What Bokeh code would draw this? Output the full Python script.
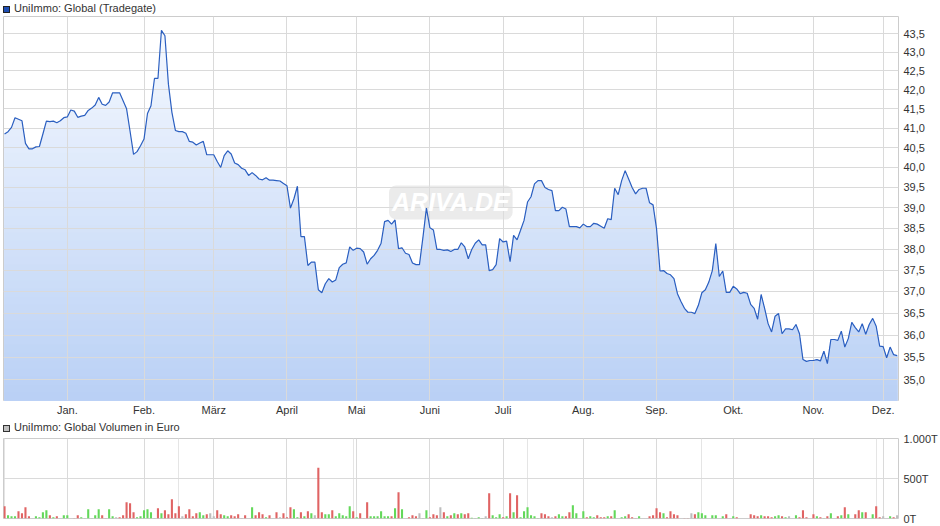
import numpy as np
from bokeh.plotting import figure
from bokeh.models import (Range1d, FixedTicker, CustomJSTickFormatter, Label,
                          Grid, Div)
from bokeh.layouts import column
from bokeh.embed import file_html
from bokeh.resources import INLINE

# ---------------- data ----------------
price = [
    40.85, 40.91, 41.02, 41.27, 41.23, 41.19, 40.61, 40.47, 40.47, 40.52,
    40.53, 40.85, 41.18, 41.17, 41.18, 41.14, 41.19, 41.27, 41.29, 41.47,
    41.44, 41.28, 41.31, 41.33, 41.46, 41.52, 41.60, 41.80, 41.62, 41.59,
    41.68, 41.92, 41.92, 41.92, 41.71, 41.50, 40.92, 40.33, 40.40, 40.55,
    40.72, 41.38, 41.58, 42.30, 42.30, 43.60, 43.45, 42.15, 41.41, 40.94,
    40.91, 40.91, 40.87, 40.66, 40.64, 40.57, 40.62, 40.66, 40.32, 40.32,
    40.32, 40.15, 40.00, 40.30, 40.42, 40.34, 40.11, 40.07, 39.98, 39.94,
    39.80, 39.87, 39.80, 39.71, 39.69, 39.74, 39.68, 39.68, 39.67, 39.66,
    39.60, 39.54, 38.99, 39.22, 39.53, 38.30, 38.30, 37.61, 37.69, 37.69,
    37.04, 36.97, 37.18, 37.30, 37.22, 37.27, 37.56, 37.64, 37.67, 38.05,
    37.97, 38.02, 38.01, 37.93, 37.64, 37.77, 37.85, 37.97, 38.14, 38.66,
    38.69, 38.60, 38.70, 38.01, 38.03, 37.90, 37.87, 37.67, 37.63, 37.63,
    38.28, 38.99, 38.51, 38.46, 37.99, 37.99, 37.97, 37.98, 37.94, 37.99,
    37.99, 38.15, 38.05, 37.77, 37.99, 38.14, 38.22, 38.10, 38.10, 37.49,
    37.51, 37.63, 38.25, 38.17, 38.19, 37.70, 38.33, 38.22, 38.45, 38.69,
    39.14, 39.27, 39.59, 39.67, 39.67, 39.50, 39.45, 39.42, 38.93, 38.93,
    39.01, 38.97, 38.54, 38.54, 38.54, 38.51, 38.60, 38.54, 38.54, 38.62,
    38.60, 38.55, 38.50, 38.73, 38.71, 39.48, 39.32, 39.67, 39.92, 39.71,
    39.50, 39.34, 39.45, 39.48, 39.48, 39.12, 39.07, 38.49, 37.48, 37.49,
    37.42, 37.39, 37.30, 36.95, 36.77, 36.61, 36.52, 36.52, 36.49, 36.68,
    36.97, 37.04, 37.22, 37.49, 38.13, 37.35, 37.48, 36.98, 36.98, 37.12,
    37.06, 36.95, 36.98, 36.96, 36.70, 36.61, 36.36, 36.93, 36.61, 36.26,
    36.07, 36.43, 36.49, 36.03, 36.14, 36.14, 36.12, 36.24, 36.03, 35.45,
    35.41, 35.43, 35.43, 35.45, 35.42, 35.64, 35.36, 35.90, 35.90, 35.88,
    36.09, 35.73, 35.92, 36.29, 36.17, 36.07, 36.26, 36.02, 36.24, 36.38,
    36.20, 35.75, 35.74, 35.49, 35.73, 35.56, 35.54,
]

# daily volume in thousand euro (T)
volume_t = [
    154, 42, 29, 29, 92, 67, 142, 29, 4, 29,
    17, 79, 104, 42, 17, 29, 4, 42, 42, 0,
    4, 42, 17, 4, 117, 4, 42, 117, 42, 4,
    117, 29, 17, 17, 42, 204, 192, 79, 17, 29,
    104, 117, 79, 4, 129, 67, 104, 54, 242, 67,
    154, 29, 54, 117, 29, 67, 79, 42, 54, 67,
    29, 104, 54, 42, 29, 42, 29, 54, 4, 42,
    0, 142, 42, 79, 54, 17, 42, 4, 79, 17,
    67, 17, 142, 117, 17, 79, 29, 92, 67, 42,
    633, 79, 54, 54, 104, 29, 67, 42, 29, 154,
    92, 17, 67, 4, 204, 29, 29, 29, 92, 29,
    29, 29, 129, 329, 117, 0, 17, 42, 29, 67,
    4, 104, 17, 54, 42, 142, 79, 29, 42, 67,
    54, 67, 54, 67, 8, 4, 17, 4, 29, 317,
    42, 17, 54, 17, 29, 317, 79, 292, 17, 92,
    142, 42, 29, 4, 67, 54, 29, 17, 29, 54,
    29, 29, 79, 167, 67, 0, 92, 17, 29, 17,
    42, 17, 17, 29, 29, 104, 0, 17, 29, 54,
    17, 4, 29, 0, 0, 29, 42, 129, 79, 67,
    17, 92, 54, 42, 0, 4, 4, 67, 54, 79,
    67, 42, 0, 42, 42, 0, 29, 54, 4, 29,
    17, 0, 0, 0, 54, 42, 29, 42, 29, 29,
    17, 29, 42, 29, 17, 29, 0, 42, 17, 104,
    17, 0, 54, 29, 17, 4, 29, 67, 0, 29,
    42, 142, 54, 0, 54, 104, 79, 79, 0, 54,
    154, 17, 29, 0, 29, 17, 42,
]

# day-on-day price change direction (+1 up, -1 down, 0 unchanged)
change_sign = [
    -1, 1, 1, 1, -1, -1, -1, -1, 0, 1,
    1, 1, 1, -1, 1, -1, 0, 1, 1, 0,
    -1, -1, 1, 1, 1, 1, 1, 1, -1, -1,
    1, 1, 0, -1, -1, -1, -1, -1, 1, 1,
    1, 1, 1, 1, -1, 1, -1, -1, -1, -1,
    -1, 0, -1, -1, -1, -1, 1, 1, -1, 0,
    0, -1, -1, 1, 1, -1, -1, -1, -1, -1,
    0, 1, -1, -1, -1, 1, -1, 0, -1, 0,
    -1, -1, -1, 1, 1, -1, 1, -1, 1, 0,
    -1, -1, 1, 1, -1, 1, 1, 1, 1, 1,
    -1, 1, -1, -1, -1, 1, 1, 1, 1, 1,
    1, -1, 1, -1, 1, 0, -1, -1, -1, 0,
    1, 1, -1, -1, -1, 0, -1, 1, -1, 1,
    -1, 1, -1, -1, 1, 1, 1, 1, 0, -1,
    1, 1, 1, -1, 1, -1, 1, -1, 1, 1,
    1, 1, 1, 1, -1, -1, -1, 0, -1, 1,
    1, -1, -1, 1, 1, 0, 1, -1, 1, 1,
    -1, -1, -1, 1, -1, 1, 0, 1, 1, -1,
    -1, -1, 1, 0, 0, -1, -1, -1, -1, 1,
    -1, -1, -1, -1, 0, -1, -1, 0, -1, 1,
    1, 1, 0, 1, 1, 0, 1, -1, 0, 1,
    -1, 0, 0, 0, -1, -1, -1, 1, -1, -1,
    -1, 1, 1, -1, 1, 0, 0, 1, -1, -1,
    -1, 0, -1, 1, -1, 1, -1, 1, 0, -1,
    1, -1, 1, 0, -1, -1, 1, -1, 0, 1,
    -1, -1, 0, 0, 1, -1, 0,
]

month_idx = [18, 40, 60, 81, 101, 122, 143, 166, 187, 209, 232, 252]
month_labels = ["Jan.", "Feb.", "März", "April", "Mai", "Juni", "Juli",
                "Aug.", "Sep.", "Okt.", "Nov.", "Dez."]
price_ticks = [35.0, 35.5, 36.0, 36.5, 37.0, 37.5, 38.0, 38.5, 39.0,
               39.5, 40.0, 40.5, 41.0, 41.5, 42.0, 42.5, 43.0, 43.5]
volume_ticks = [0, 500, 1000]

title_price = "UniImmo: Global (Tradegate)"
title_volume = "UniImmo: Global Volumen in Euro"

assert len(price) == len(volume_t) == len(change_sign)

# ---------------- styling ----------------
FONT = "Liberation Sans"
GRID = "#dadada"
OUTLINE = "#cccccc"
TXT = "#333333"
LINE = "#2b5fc0"
TOP_COL = (247, 250, 255)
BOT_COL = (185, 208, 245)

n = len(price)
idx = np.arange(n)
price_arr = np.array(price)
x_lo, x_hi = -0.3, n - 1 + 0.4
y_lo, y_hi = 34.55, 43.98
FW = 895


def style_axis(ax):
    ax.axis_line_color = None
    ax.major_tick_line_color = None
    ax.minor_tick_line_color = None
    ax.major_tick_out = 0
    ax.major_tick_in = 0
    ax.minor_tick_out = 0
    ax.major_label_standoff = 5
    ax.major_label_text_font = FONT
    ax.major_label_text_font_size = "11px"
    ax.major_label_text_color = TXT


def header(label, swatch, border, h, pad_top):
    html = ('<div style="font-family:\'Liberation Sans\',Arial,sans-serif;'
            'font-size:11px;line-height:12px;color:%s;white-space:nowrap;'
            'padding-top:%dpx;">'
            '<span style="display:inline-block;width:7px;height:7px;'
            'background:%s;border:1px solid %s;margin-right:4px;'
            'vertical-align:-1px;"></span>%s</div>'
            % (TXT, pad_top, swatch, border, label))
    return Div(text=html, width=400, height=h, margin=(0, 0, 0, 3))


# ---------------- price chart ----------------
p1 = figure(width=None, height=None, frame_width=FW, frame_height=384,
            y_axis_type="log", y_axis_location="right", output_backend="svg",
            toolbar_location=None, x_range=Range1d(x_lo, x_hi),
            y_range=Range1d(y_lo, y_hi), min_border_left=3,
            min_border_right=0, min_border_top=0, min_border_bottom=0)
p1.outline_line_color = OUTLINE
p1.background_fill_color = "white"

style_axis(p1.xaxis[0])
style_axis(p1.yaxis[0])
p1.xaxis.major_label_standoff = 3
p1.xaxis.ticker = FixedTicker(ticks=month_idx)
p1.xaxis.major_label_overrides = {m: l for m, l in zip(month_idx, month_labels)}
p1.yaxis.ticker = FixedTicker(ticks=price_ticks)
p1.yaxis.formatter = CustomJSTickFormatter(
    code="return tick.toFixed(1).replace('.', ',');")
p1.grid.grid_line_color = GRID
p1.grid.grid_line_width = 1

# gradient fill under the line, drawn as stacked bands (lightest first)
K = 48
lb, lt = np.log(y_lo), np.log(y_hi)
for k in reversed(range(K)):
    band_top = np.exp(lb + (k + 1) / K * (lt - lb))
    f = (k + 0.5) / K
    col = tuple(int(round(b + (t - b) * f)) for b, t in zip(BOT_COL, TOP_COL))
    p1.varea(x=idx, y1=np.full(n, y_lo * 0.995), y2=np.minimum(price_arr, band_top),
             fill_color="#%02x%02x%02x" % col, fill_alpha=1.0, level="image")

wm = Label(x=128, y=39.13, text="ARIVA.DE", text_align="center",
           text_baseline="middle", text_font=FONT, text_font_style="bold italic",
           text_font_size="25px", text_color="white",
           background_fill_color="#dedede", background_fill_alpha=0.6,
           padding=3, border_radius=7, level="underlay")
p1.add_layout(wm)

p1.line(idx, price_arr, line_color=LINE, line_width=1.2)

# ---------------- volume chart ----------------
p2 = figure(width=None, height=None, frame_width=FW, frame_height=80,
            y_axis_location="right", x_axis_location=None,
            output_backend="svg", toolbar_location=None,
            x_range=p1.x_range, y_range=Range1d(0, 1000), min_border_left=3,
            min_border_right=0, min_border_top=6, min_border_bottom=6)
p2.outline_line_color = OUTLINE
style_axis(p2.yaxis[0])
p2.yaxis.ticker = FixedTicker(ticks=volume_ticks)
p2.yaxis.formatter = CustomJSTickFormatter(code="""
var s = Math.round(tick).toString();
s = s.replace(/\\B(?=(\\d{3})+(?!\\d))/g, '.');
return s + 'T';
""")
p2.ygrid.grid_line_color = GRID
p2.add_layout(Grid(dimension=0, ticker=FixedTicker(ticks=month_idx),
                   grid_line_color=GRID, grid_line_width=1))

cmap = {1: "#63d85a", -1: "#e06464", 0: "#bdbdbd"}
bar_colors = [cmap[s] for s in change_sign]
p2.vbar(x=idx, top=volume_t, width=0.6, bottom=0, fill_color=bar_colors,
        line_color=None)

layout = column(header(title_price, "#1f4fb4", "#222222", 16, 0), p1,
                header(title_volume, "#c0c0c0", "#333333", 14, 3), p2,
                spacing=0)
open("out.html", "w").write(file_html(layout, INLINE))
